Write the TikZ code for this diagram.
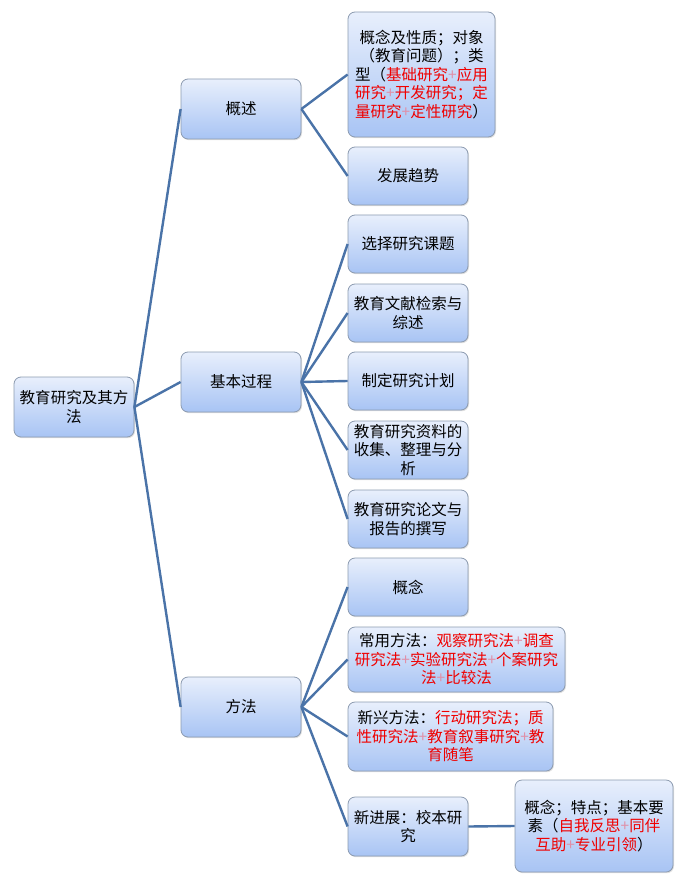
\documentclass[tikz,border=0pt]{standalone}
\usepackage{fontspec}
\usetikzlibrary{shadows}
\newfontfamily\cjk{Noto Sans CJK SC}
\definecolor{linec}{HTML}{4A73A8}
\definecolor{boxtop}{HTML}{E8EFFC}
\definecolor{boxbot}{HTML}{A8C4F4}
\definecolor{boxline}{HTML}{8C9BB0}
\definecolor{plusc}{HTML}{E090A8}
\definecolor{redt}{HTML}{F00000}
\newcommand\pl{\textcolor{plusc}{+}}
\newcommand\rd[1]{\textcolor{redt}{#1}}
\begin{document}
\begin{tikzpicture}[x=1pt,y=-1pt,
  box/.style={draw=boxline, line width=0.8pt, rounded corners=7pt,
    top color=boxtop, bottom color=boxbot, align=center, inner sep=1pt,
    font=\cjk\fontsize{15.5}{18.5}\selectfont,
    drop shadow={opacity=0.25, shadow xshift=1pt, shadow yshift=-1.2pt}},
  conn/.style={draw=linec, line width=2.4pt}]
\useasboundingbox (0,0) rectangle (683,885);
\node[box, minimum width=120pt, minimum height=60pt] (root) at (74,407) {教育研究及其方\\法};
\node[box, minimum width=120pt, minimum height=60pt] (n1) at (241,109) {概述};
\node[box, minimum width=120pt, minimum height=60pt] (n2) at (241,382) {基本过程};
\node[box, minimum width=120pt, minimum height=60pt] (n3) at (241,707) {方法};
\node[box, minimum width=147pt, minimum height=125pt] (a1) at (421.5,74.5) {概念及性质；对象\\（教育问题）；类\\型（\rd{基础研究\pl 应用}\\\rd{研究\pl 开发研究；定}\\\rd{量研究\pl 定性研究}）};
\node[box, minimum width=120pt, minimum height=58pt] (a2) at (408,176) {发展趋势};
\node[box, minimum width=120pt, minimum height=58pt] (b1) at (408,244) {选择研究课题};
\node[box, minimum width=120pt, minimum height=58pt] (b2) at (408,313) {教育文献检索与\\综述};
\node[box, minimum width=120pt, minimum height=58pt] (b3) at (408,381) {制定研究计划};
\node[box, minimum width=120pt, minimum height=58pt] (b4) at (408,450) {教育研究资料的\\收集、整理与分\\析};
\node[box, minimum width=120pt, minimum height=58pt] (b5) at (408,519) {教育研究论文与\\报告的撰写};
\node[box, minimum width=120pt, minimum height=58pt] (c1) at (408,587) {概念};
\node[box, minimum width=217pt, minimum height=65pt] (c2) at (456.5,659.5) {常用方法：\rd{观察研究法\pl 调查}\\\rd{研究法\pl 实验研究法\pl 个案研究}\\\rd{法\pl 比较法}};
\node[box, minimum width=205pt, minimum height=69pt] (c3) at (450.5,736.5) {新兴方法：\rd{行动研究法；质}\\\rd{性研究法\pl 教育叙事研究\pl 教}\\\rd{育随笔}};
\node[box, minimum width=120pt, minimum height=59pt] (c4) at (408,826.5) {新进展：校本研\\究};
\node[box, minimum width=158pt, minimum height=92pt] (d1) at (594,826) {概念；特点；基本要\\素（\rd{自我反思\pl 同伴}\\\rd{互助\pl 专业引领}）};
\foreach \c in {n1,n2,n3} \draw[conn] (root.east) -- (\c.west);
\foreach \c in {a1,a2} \draw[conn] (n1.east) -- (\c.west);
\foreach \c in {b1,b2,b3,b4,b5} \draw[conn] (n2.east) -- (\c.west);
\foreach \c in {c1,c2,c3,c4} \draw[conn] (n3.east) -- (\c.west);
\draw[conn] (c4.east) -- (d1.west);
\end{tikzpicture}
\end{document}
